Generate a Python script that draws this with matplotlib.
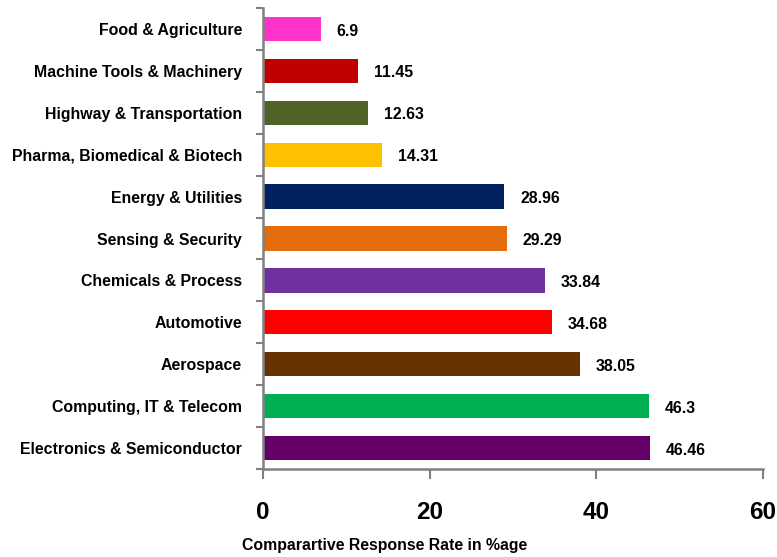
import matplotlib
matplotlib.use("Agg")
import matplotlib.pyplot as plt
import numpy as np

categories = ["Electronics & Semiconductor", "Computing, IT & Telecom", "Aerospace",
              "Automotive", "Chemicals & Process", "Sensing & Security",
              "Energy & Utilities", "Pharma, Biomedical & Biotech",
              "Highway & Transportation", "Machine Tools & Machinery",
              "Food & Agriculture"]
values = [46.46, 46.3, 38.05, 34.68, 33.84, 29.29, 28.96, 14.31, 12.63, 11.45, 6.9]
value_labels = ["46.46", "46.3", "38.05", "34.68", "33.84", "29.29", "28.96",
                "14.31", "12.63", "11.45", "6.9"]
colors = ["#660066", "#00B050", "#663300", "#FF0000", "#7030A0", "#E46C0A",
          "#002060", "#FFC000", "#4F6228", "#C00000", "#FF33CC"]
x_ticks = [0, 20, 40, 60]

plt.rcParams['font.family'] = ['Liberation Sans', 'DejaVu Sans']

fig = plt.figure(figsize=(7.77, 5.57), dpi=100)
ax = fig.add_axes([263/777, 88/557, 500/777, 461/557])

y = np.arange(len(categories))
ax.barh(y, values, height=0.58, color=colors)
for yi, v, lab in zip(y, values, value_labels):
    ax.text(v + 1.9, yi - 0.05, lab, va='center', ha='left', fontsize=11.4, fontweight='bold')

ax.set_xlim(0, 60)
ax.set_ylim(-0.5, len(categories) - 0.5)
ax.set_yticks(y)
ax.set_yticklabels(categories, fontsize=11.4, fontweight='bold')
ax.tick_params(axis='y', which='major', length=0, pad=15)
ax.set_yticks(np.arange(-0.5, len(categories), 1.0), minor=True)
ax.tick_params(axis='y', which='minor', length=5, width=1.5, color='#808080', direction='out')

ax.set_xticks(x_ticks)
ax.set_xticklabels([str(t) for t in x_ticks], fontsize=17.5, fontweight='bold')
ax.tick_params(axis='x', length=7, width=1.5, color='#808080', direction='out', pad=16)

for s in ['top', 'right']:
    ax.spines[s].set_visible(False)
for s in ['left', 'bottom']:
    ax.spines[s].set_color('#808080')
    ax.spines[s].set_linewidth(1.8)

ax.set_xlabel("Comparartive Response Rate in %age", fontsize=11.4, fontweight='bold')
ax.xaxis.set_label_coords((385 - 263) / 500, -(538 - 469) / 461)

fig.savefig("out.png", dpi=100)
